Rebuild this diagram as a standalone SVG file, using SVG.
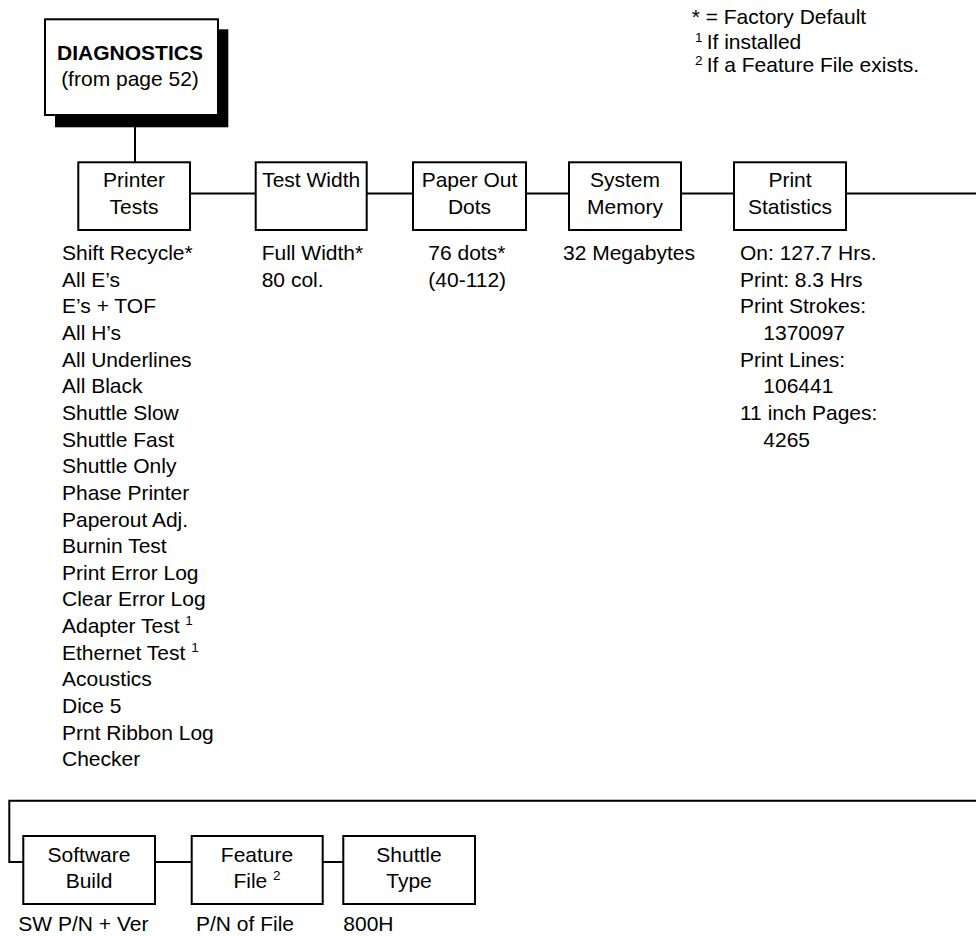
<svg xmlns="http://www.w3.org/2000/svg" width="976" height="936" viewBox="0 0 976 936">
<style>
text{font-family:"Liberation Sans",Arial,sans-serif;font-size:21px;fill:#000}
.c{text-anchor:middle}
.b{font-weight:bold}
.sup{font-size:13.5px}
.box{fill:#fff;stroke:#000;stroke-width:2}
.ln{fill:none;stroke:#000;stroke-width:2}
</style>
<rect width="976" height="936" fill="#fff"/>
<g id="legend">
<text x="691.7" y="24">* = Factory Default</text>
<text x="695" y="49"><tspan class="sup" dy="-7">1</tspan><tspan x="706.7" dy="7">If installed</tspan></text>
<text x="695" y="72"><tspan class="sup" dy="-7">2</tspan><tspan x="706.7" dy="7">If a Feature File exists.</tspan></text>
</g>
<g id="connectors">
<line class="ln" x1="135" y1="127" x2="135" y2="162"/>
<line class="ln" x1="190" y1="193.5" x2="255.7" y2="193.5"/>
<line class="ln" x1="366.7" y1="193.5" x2="413" y2="193.5"/>
<line class="ln" x1="526" y1="193.5" x2="569" y2="193.5"/>
<line class="ln" x1="681" y1="193.5" x2="734" y2="193.5"/>
<line class="ln" x1="846" y1="193.5" x2="976" y2="193.5"/>
<polyline class="ln" points="976,800.7 9.3,800.7 9.3,862 23.3,862"/>
<line class="ln" x1="155" y1="862" x2="191.7" y2="862"/>
<line class="ln" x1="322.7" y1="862" x2="343.3" y2="862"/>
</g>
<g id="diagnostics">
<rect x="55" y="29.3" width="173.3" height="98" fill="#000"/>
<rect class="box" x="45" y="19.3" width="173" height="95.7"/>
<text class="c b" x="130" y="60">DIAGNOSTICS</text>
<text class="c" x="130" y="86">(from page 52)</text>
</g>
<g id="printer-tests">
<rect class="box" x="78.3" y="162.3" width="111.7" height="67.7"/>
<text class="c" x="134" y="187">Printer</text>
<text class="c" x="134" y="214">Tests</text>
<text x="62" y="260">Shift Recycle*</text>
<text x="62" y="286.65">All E’s</text>
<text x="62" y="313.3">E’s + TOF</text>
<text x="62" y="339.95">All H’s</text>
<text x="62" y="366.6">All Underlines</text>
<text x="62" y="393.25">All Black</text>
<text x="62" y="419.9">Shuttle Slow</text>
<text x="62" y="446.55">Shuttle Fast</text>
<text x="62" y="473.2">Shuttle Only</text>
<text x="62" y="499.85">Phase Printer</text>
<text x="62" y="526.5">Paperout Adj.</text>
<text x="62" y="553.15">Burnin Test</text>
<text x="62" y="579.8">Print Error Log</text>
<text x="62" y="606.45">Clear Error Log</text>
<text x="62" y="633.1">Adapter Test <tspan class="sup" dy="-8">1</tspan></text>
<text x="62" y="659.75">Ethernet Test <tspan class="sup" dy="-8">1</tspan></text>
<text x="62" y="686.4">Acoustics</text>
<text x="62" y="713.05">Dice 5</text>
<text x="62" y="739.7">Prnt Ribbon Log</text>
<text x="62" y="766.35">Checker</text>
</g>
<g id="test-width">
<rect class="box" x="255.7" y="162.3" width="111" height="67.7"/>
<text class="c" x="311.2" y="187">Test Width</text>
<text x="261.7" y="260">Full Width*</text>
<text x="261.7" y="286.65">80 col.</text>
</g>
<g id="paper-out-dots">
<rect class="box" x="413" y="162.3" width="113" height="67.7"/>
<text class="c" x="469.5" y="187">Paper Out</text>
<text class="c" x="469.5" y="214">Dots</text>
<text x="428.3" y="260">76 dots*</text>
<text x="428.3" y="286.65">(40-112)</text>
</g>
<g id="system-memory">
<rect class="box" x="569" y="162.3" width="112" height="67.7"/>
<text class="c" x="625" y="187">System</text>
<text class="c" x="625" y="214">Memory</text>
<text x="563" y="260">32 Megabytes</text>
</g>
<g id="print-statistics">
<rect class="box" x="734" y="162.3" width="112" height="67.7"/>
<text class="c" x="790" y="187">Print</text>
<text class="c" x="790" y="214">Statistics</text>
<text x="740" y="260">On: 127.7 Hrs.</text>
<text x="740" y="286.65">Print: 8.3 Hrs</text>
<text x="740" y="313.3">Print Strokes:</text>
<text x="763.3" y="339.95">1370097</text>
<text x="740" y="366.6">Print Lines:</text>
<text x="763.3" y="393.25">106441</text>
<text x="740" y="419.9">11 inch Pages:</text>
<text x="763.3" y="446.55">4265</text>
</g>
<g id="software-build">
<rect class="box" x="23.3" y="836" width="131.7" height="68"/>
<text class="c" x="89" y="861.5">Software</text>
<text class="c" x="89" y="888.3">Build</text>
<text x="18.3" y="931">SW P/N + Ver</text>
</g>
<g id="feature-file">
<rect class="box" x="191.7" y="836" width="131" height="68"/>
<text class="c" x="257" y="861.5">Feature</text>
<text class="c" x="257" y="888.3">File <tspan class="sup" dy="-8">2</tspan></text>
<text x="196" y="931">P/N of File</text>
</g>
<g id="shuttle-type">
<rect class="box" x="343.3" y="836" width="131.7" height="68"/>
<text class="c" x="409" y="861.5">Shuttle</text>
<text class="c" x="409" y="888.3">Type</text>
<text x="343.3" y="931">800H</text>
</g>
</svg>
